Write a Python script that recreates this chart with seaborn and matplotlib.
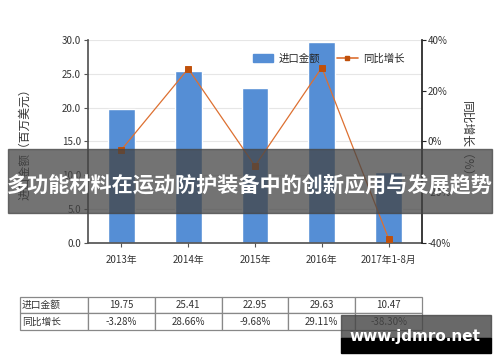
import matplotlib
matplotlib.use("Agg")
import matplotlib.pyplot as plt
import seaborn as sns
import pandas as pd
from matplotlib.patches import Rectangle, Patch
from matplotlib.lines import Line2D

categories = ["2013年", "2014年", "2015年", "2016年", "2017年1-8月"]
import_amount = [19.75, 25.41, 22.95, 29.63, 10.47]
growth = [-3.28, 28.66, -9.68, 29.11, -38.30]
amount_labels = ["19.75", "25.41", "22.95", "29.63", "10.47"]
growth_labels = ["-3.28%", "28.66%", "-9.68%", "29.11%", "-38.30%"]
left_ticks = [0, 5, 10, 15, 20, 25, 30]
right_ticks = [-40, -20, 0, 20, 40]

sns.set_theme(style="white")
plt.rcParams['font.family'] = ['Noto Sans CJK SC', 'DejaVu Sans']
plt.rcParams['axes.unicode_minus'] = False

df = pd.DataFrame({"cat": categories, "amt": import_amount, "g": growth})

fig = plt.figure(figsize=(5, 3.62), dpi=100)
ax = fig.add_axes([0.176, 0.329, 0.668, 0.5606])

bar_color = "#558ed5"
line_color = "#dd7031"
mk_color = "#c0500a"

sns.barplot(data=df, x="cat", y="amt", color=bar_color, width=0.4, ax=ax,
            saturation=1)
ax.set_ylim(0, 30)
ax.set_yticks(left_ticks)
ax.set_yticklabels([f"{v:.1f}" for v in left_ticks], fontsize=7, color="#333333")
ax.set_xticks(range(len(categories)))
ax.set_xticklabels(categories, fontsize=7, color="#333333")
ax.set_xlabel("")
ax.set_ylabel("进口金额（百万美元）", fontsize=8.5, color="#333333", labelpad=22)
ax.yaxis.grid(True, color="#e6e6e6", linewidth=0.8)
ax.set_axisbelow(True)
for s in ["top", "right"]:
    ax.spines[s].set_visible(False)
ax.spines["left"].set_color("#555555")
ax.spines["bottom"].set_color("#555555")
ax.tick_params(axis="both", which="both", length=3, width=0.8, color="#555555",
               direction="out", left=True, bottom=True, pad=2)
ax.tick_params(axis="x", pad=6)

ax2 = ax.twinx()
sns.pointplot(data=df, x="cat", y="g", color=line_color, markers="s",
              linestyles="-", linewidth=0.9, markersize=4.5, ax=ax2,
              markerfacecolor=mk_color, markeredgecolor=mk_color)
ax2.set_ylim(-40, 40)
ax2.set_yticks(right_ticks)
ax2.set_yticklabels([f"{v}%" for v in right_ticks], fontsize=7, color="#333333")
ax2.set_ylabel("同比增长（%）", fontsize=8.5, color="#333333", rotation=-90,
               labelpad=16)
ax2.set_xlabel("")
for s in ["top", "left", "bottom"]:
    ax2.spines[s].set_visible(False)
ax2.spines["right"].set_color("#222222")
ax2.tick_params(axis="y", length=3, width=0.8, color="#222222", direction="out",
                right=True, pad=1)
ax2.set_xlim(-0.5, len(categories) - 0.5)
ax.set_xlim(-0.5, len(categories) - 0.5)

for a in (ax, ax2):
    if a.get_legend():
        a.get_legend().remove()
handles = [Patch(facecolor=bar_color, edgecolor=bar_color),
           Line2D([], [], color=line_color, linewidth=1.2, marker="s",
                  markersize=3, markerfacecolor=mk_color, markeredgecolor=mk_color)]
ax2.legend(handles, ["进口金额", "同比增长"], loc="upper right",
           bbox_to_anchor=(0.975, 0.98), ncol=2, frameon=False, fontsize=7.5,
           handlelength=2.0, handleheight=0.9, columnspacing=1.6,
           handletextpad=0.5)

cell_text = [["进口金额"] + amount_labels, ["同比增长"] + growth_labels]
tab = ax.table(cellText=cell_text, cellLoc="center",
               colWidths=[68 / 334] + [1.0 / len(categories)] * len(categories),
               bbox=[-0.2036, -0.4286, 1.2036, 0.1626])
tab.auto_set_font_size(False)
tab.set_fontsize(7)
for (r, c), cell in tab.get_celld().items():
    cell.set_edgecolor("#888888")
    cell.set_linewidth(0.9)
    cell.get_text().set_color("#333333")
    if c == 0:
        cell.get_text().set_ha("left")
        cell._loc = "left"
        cell.PAD = 0.03

# title banner overlay
fig.patches.append(Rectangle((8 / 500, 1 - 213 / 362), 484 / 500, 64 / 362,
                             transform=fig.transFigure, color="#444444",
                             alpha=0.75, zorder=10))
fig.text(0.5, 1 - 185 / 362, "多功能材料在运动防护装备中的创新应用与发展趋势",
         ha="center", va="center", fontsize=15.2, fontweight="bold",
         color="white", zorder=11)

# watermark
fig.patches.append(Rectangle((341 / 500, 1 - 338 / 362), 150 / 500, 23 / 362,
                             transform=fig.transFigure, color="#444444",
                             alpha=0.8, zorder=10))
fig.patches.append(Rectangle((341 / 500, 1 - 353 / 362), 150 / 500, 15 / 362,
                             transform=fig.transFigure, color="black",
                             zorder=10))
fig.text(415 / 500, 1 - 337 / 362, "www.jdmro.net", ha="center", va="center",
         fontsize=11, fontweight="bold", color="white", zorder=11,
         family="DejaVu Sans")

fig.savefig("out.png", dpi=100)
